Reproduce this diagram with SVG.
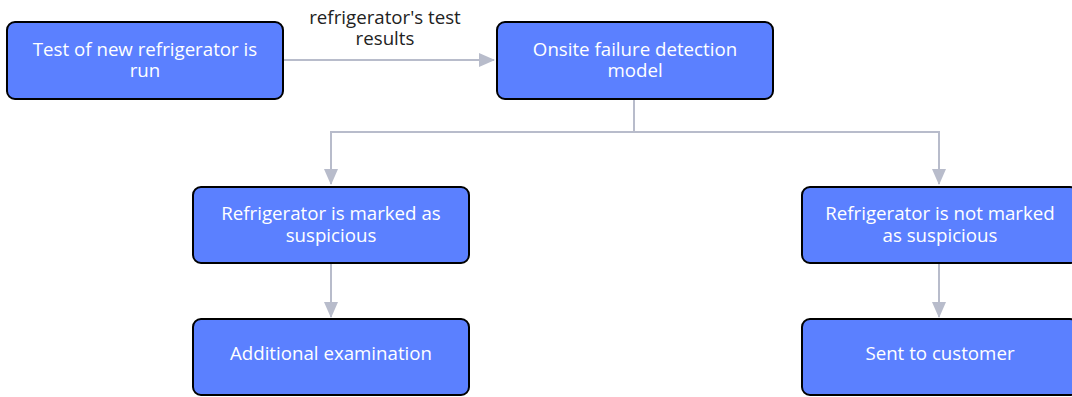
<svg xmlns="http://www.w3.org/2000/svg" width="1072" height="397" viewBox="0 0 1072 397">
<style>
.node rect{fill:#5b80ff;stroke:#000;stroke-width:2}
.node text{fill:#fff;font-family:"Open Sans","Noto Sans",sans-serif;font-size:18.7px;text-anchor:middle}
.lbl{fill:#222;font-family:"Open Sans","Noto Sans",sans-serif;font-size:18.7px;text-anchor:middle}
.conn{fill:none;stroke:#b8bccb;stroke-width:2}
</style>
<defs>
<marker id="ahv" viewBox="0 0 16 16" markerWidth="16" markerHeight="16" refX="15" refY="8" orient="auto" markerUnits="userSpaceOnUse">
<path d="M0,1 L16,8 L0,15 Z" fill="#b8bccb"/>
</marker>
</defs>
<rect width="1072" height="397" fill="#fff"/>
<g id="connectors">
<path class="conn" d="M283,60 H494" marker-end="url(#ahv)"/>
<text class="lbl" x="385" y="24">refrigerator's test</text>
<text class="lbl" x="385" y="45">results</text>
<path class="conn" d="M634,99 V132 H331 V184" marker-end="url(#ahv)"/>
<path class="conn" d="M634,132 H939 V184" marker-end="url(#ahv)"/>
<path class="conn" d="M331,263 V317" marker-end="url(#ahv)"/>
<path class="conn" d="M939,263 V317" marker-end="url(#ahv)"/>
</g>
<g id="n1" class="node"><rect x="7" y="22" width="276" height="77" rx="8"/><text x="145" y="56">Test of new refrigerator is</text><text x="145" y="77">run</text></g>
<g id="n2" class="node"><rect x="497" y="22" width="276" height="77" rx="8"/><text x="635" y="56">Onsite failure detection</text><text x="635" y="77">model</text></g>
<g id="n3" class="node"><rect x="193" y="187" width="276" height="76" rx="8"/><text x="331" y="220">Refrigerator is marked as</text><text x="331" y="242">suspicious</text></g>
<g id="n4" class="node"><rect x="193" y="319" width="276" height="76" rx="8"/><text x="331" y="360">Additional examination</text></g>
<g id="n5" class="node"><rect x="802" y="187" width="276" height="76" rx="8"/><text x="940" y="220">Refrigerator is not marked</text><text x="940" y="242">as suspicious</text></g>
<g id="n6" class="node"><rect x="802" y="319" width="276" height="76" rx="8"/><text x="940" y="360">Sent to customer</text></g>
</svg>
